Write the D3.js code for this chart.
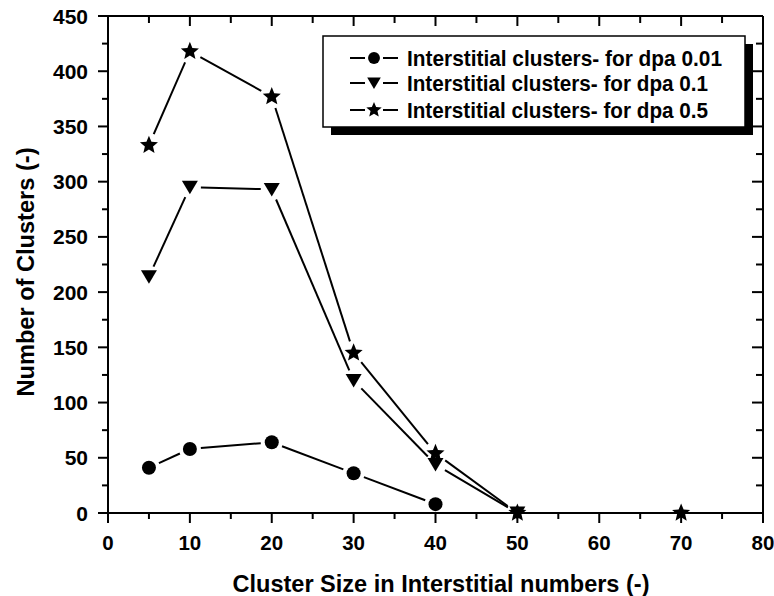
<!DOCTYPE html>
<html>
<head>
<meta charset="utf-8">
<title>Clusters</title>
<script src="https://d3js.org/d3.v7.min.js"></script>
<style>
  body { margin: 0; background: #fff; }
  text { font-family: "Liberation Sans", Arial, sans-serif; font-weight: bold; fill: #000; }
</style>
</head>
<body>
<svg id="chart" width="774" height="596"></svg>
<script>
// data
const sizesLow = [5, 10, 20, 30, 40];
const dpa001 = [41, 58, 64, 36, 8];
const sizesMid = [5, 10, 20, 30, 40, 50];
const dpa01 = [214, 295, 293, 120, 44, 0];
const sizesHigh = [5, 10, 20, 30, 40, 50, 70];
const dpa05 = [333, 418, 377, 145, 54, 0, 0];
const xTicks = [0, 10, 20, 30, 40, 50, 60, 70, 80];
const yTicks = [0, 50, 100, 150, 200, 250, 300, 350, 400, 450];
const legendLabels = ["Interstitial clusters- for dpa 0.01",
                      "Interstitial clusters- for dpa 0.1",
                      "Interstitial clusters- for dpa 0.5"];

const svg = d3.select("#chart");
const m = {left: 108, top: 16, right: 11, bottom: 83};
const W = 774 - m.left - m.right, H = 596 - m.top - m.bottom;

const x = d3.scaleLinear().domain([0, 80]).range([m.left, m.left + W]);
const y = d3.scaleLinear().domain([0, 450]).range([m.top + H, m.top]);

// marker shapes
function starPath(r) {
  const ri = r * 0.45, p = [];
  for (let i = 0; i < 10; i++) {
    const a = -Math.PI / 2 + i * Math.PI / 5, rr = i % 2 ? ri : r;
    p.push([rr * Math.cos(a), rr * Math.sin(a)]);
  }
  return "M" + p.join("L") + "Z";
}
const shapes = {
  circle: {path: "M7,0A7,7 0 1,1 -7,0A7,7 0 1,1 7,0Z", r: 7},
  tri: {path: "M-8,-6.5L8,-6.5L0,7Z", r: 7},
  star: {path: starPath(9.5), r: 8}
};

const series = [
  {xs: sizesLow, ys: dpa001, shape: "circle"},
  {xs: sizesMid, ys: dpa01, shape: "tri"},
  {xs: sizesHigh, ys: dpa05, shape: "star"}
];

// axes (bottom/left ticks outward, top/right mirrored inward)
const gx = svg.append("g").attr("transform", `translate(0,${m.top + H})`);
gx.append("line").attr("x1", x(0)).attr("x2", x(80)).attr("stroke", "#000").attr("stroke-width", 2);
gx.selectAll("line.t").data(d3.range(0, 81, 5)).join("line")
  .attr("x1", d => x(d)).attr("x2", d => x(d))
  .attr("y1", 0).attr("y2", d => d % 10 ? 6 : 10)
  .attr("stroke", "#000").attr("stroke-width", 2);
gx.selectAll("text").data(xTicks).join("text")
  .attr("x", d => x(d)).attr("y", 37)
  .attr("text-anchor", "middle").attr("font-size", 20.5)
  .text(d => d);

const gtop = svg.append("g").attr("transform", `translate(0,${m.top})`);
gtop.append("line").attr("x1", x(0)).attr("x2", x(80)).attr("stroke", "#000").attr("stroke-width", 2);
gtop.selectAll("line.t").data(d3.range(0, 81, 5)).join("line")
  .attr("x1", d => x(d)).attr("x2", d => x(d))
  .attr("y1", 0).attr("y2", d => d % 10 ? 7 : 10)
  .attr("stroke", "#000").attr("stroke-width", 2);

const gy = svg.append("g").attr("transform", `translate(${m.left},0)`);
gy.append("line").attr("y1", y(0)).attr("y2", y(450)).attr("stroke", "#000").attr("stroke-width", 2);
gy.selectAll("line.t").data(d3.range(0, 451, 25)).join("line")
  .attr("y1", d => y(d)).attr("y2", d => y(d))
  .attr("x1", 0).attr("x2", d => d % 50 ? -6 : -10)
  .attr("stroke", "#000").attr("stroke-width", 2);
gy.selectAll("text").data(yTicks).join("text")
  .attr("x", -20).attr("y", d => y(d)).attr("dy", "0.36em")
  .attr("text-anchor", "end").attr("font-size", 21)
  .text(d => d);

const gr = svg.append("g").attr("transform", `translate(${m.left + W},0)`);
gr.append("line").attr("y1", y(0)).attr("y2", y(450)).attr("stroke", "#000").attr("stroke-width", 2);
gr.selectAll("line.t").data(d3.range(0, 451, 25)).join("line")
  .attr("y1", d => y(d)).attr("y2", d => y(d))
  .attr("x1", 0).attr("x2", d => d % 50 ? -7 : -11)
  .attr("stroke", "#000").attr("stroke-width", 2);

// axis titles
svg.append("text").attr("x", 441).attr("y", 592)
  .attr("text-anchor", "middle").attr("font-size", 24)
  .attr("textLength", 417).attr("lengthAdjust", "spacingAndGlyphs")
  .text("Cluster Size in Interstitial numbers (-)");
svg.append("text").attr("transform", "translate(34,272) rotate(-90)")
  .attr("text-anchor", "middle").attr("font-size", 23)
  .attr("textLength", 249).attr("lengthAdjust", "spacingAndGlyphs")
  .text("Number of Clusters (-)");

// lines with small gaps at the markers
function gappedSegments(pts, r) {
  const segs = [];
  for (let i = 0; i < pts.length - 1; i++) {
    const [x1, y1] = pts[i], [x2, y2] = pts[i + 1];
    const dx = x2 - x1, dy = y2 - y1, L = Math.hypot(dx, dy);
    if (L <= 2 * r) continue;
    const ux = dx / L, uy = dy / L;
    segs.push([x1 + ux * r, y1 + uy * r, x2 - ux * r, y2 - uy * r]);
  }
  return segs;
}

series.forEach(s => {
  const pts = s.xs.map((d, i) => [x(d), y(s.ys[i])]);
  const g = svg.append("g");
  g.selectAll("line").data(gappedSegments(pts, shapes[s.shape].r + 4)).join("line")
    .attr("x1", d => d[0]).attr("y1", d => d[1]).attr("x2", d => d[2]).attr("y2", d => d[3])
    .attr("stroke", "#000").attr("stroke-width", 2);
  g.selectAll("path").data(pts).join("path")
    .attr("transform", d => `translate(${d[0]},${d[1]})`)
    .attr("d", shapes[s.shape].path).attr("fill", "#000");
});

// legend
const lg = svg.append("g").attr("transform", "translate(323,36)");
lg.append("rect").attr("x", 8).attr("y", 8).attr("width", 422).attr("height", 91).attr("fill", "#000");
lg.append("rect").attr("x", 0).attr("y", 0).attr("width", 422).attr("height", 91)
  .attr("fill", "#fff").attr("stroke", "#000").attr("stroke-width", 1.5);
const rowY = [22, 47, 74];
const rowLen = [315, 301, 301];
series.forEach((s, i) => {
  const row = lg.append("g").attr("transform", `translate(0,${rowY[i]})`);
  row.append("line").attr("x1", 27).attr("x2", 42).attr("stroke", "#000").attr("stroke-width", 2);
  row.append("line").attr("x1", 60).attr("x2", 75).attr("stroke", "#000").attr("stroke-width", 2);
  row.append("path").attr("transform", `translate(51,0) scale(0.85)`)
    .attr("d", shapes[s.shape].path).attr("fill", "#000");
  row.append("text").attr("x", 84).attr("dy", "0.36em").attr("font-size", 22.5)
    .attr("textLength", rowLen[i]).attr("lengthAdjust", "spacingAndGlyphs")
    .text(legendLabels[i]);
});
</script>
</body>
</html>
